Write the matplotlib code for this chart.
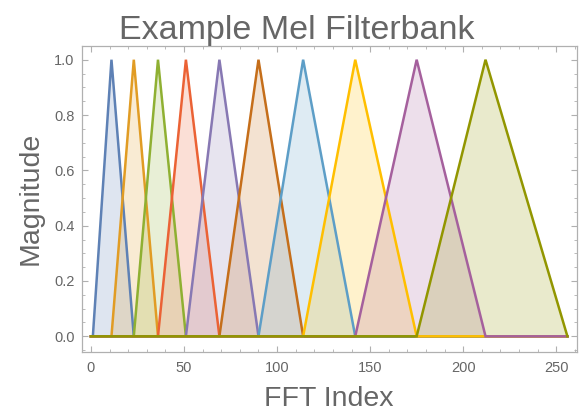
import numpy as np
import matplotlib
matplotlib.use("Agg")
import matplotlib.pyplot as plt
from matplotlib.ticker import MultipleLocator

# filter edge points (FFT bin index)
edges = [1, 11, 23, 36, 51, 69, 90, 114, 142, 175, 212, 256]
n_fft_max = 256
colors = ["#5E81B5", "#E19C24", "#8FB032", "#EB6235", "#8778B3",
          "#C56E1A", "#5D9EC7", "#FFBF00", "#A5609D", "#929600"]

title = "Example Mel Filterbank"
xlabel = "FFT Index"
ylabel = "Magnitude"
xticks = [0, 50, 100, 150, 200, 250]
yticks = [0.0, 0.2, 0.4, 0.6, 0.8, 1.0]

text_col = "#666666"
frame_col = "#b0b0b0"

plt.rcParams['font.family'] = ['Liberation Sans', 'DejaVu Sans']

fig = plt.figure(figsize=(5.81, 4.17), dpi=100)
ax = fig.add_axes([0.1406, 0.157, 0.852, 0.733])

##############################################################################
# one triangle per filter, flat zero across the rest of the range
filters = []
for k in range(len(edges) - 2):
    lo, mid, hi = edges[k], edges[k + 1], edges[k + 2]
    xs = [0, lo, mid, hi, n_fft_max]
    ys = [0, 0, 1, 0, 0]
    filters.append((xs, ys))

for k, (xs, ys) in enumerate(filters):
    ax.fill_between(xs, 0, ys, color=colors[k], alpha=0.2, linewidth=0, zorder=1)

for k, (xs, ys) in enumerate(filters):
    ax.plot(xs, ys, color=colors[k], linewidth=1.8, zorder=2 + k,
            solid_joinstyle='miter')

ax.set_xlim(-5, 261)
ax.set_ylim(-0.055, 1.05)

ax.set_xticks(xticks)
ax.set_yticks(yticks)
ax.set_yticklabels(["%.1f" % v for v in yticks])
ax.xaxis.set_minor_locator(MultipleLocator(10))
ax.yaxis.set_minor_locator(MultipleLocator(0.05))

ax.tick_params(which='both', direction='in', top=True, right=True,
               color=frame_col, labelcolor=text_col, labelsize=10.5)
ax.tick_params(which='major', length=4, width=0.8)
ax.tick_params(which='minor', length=2, width=0.6)
ax.tick_params(axis='x', pad=7)
ax.tick_params(axis='y', pad=5)
for s in ax.spines.values():
    s.set_color(frame_col)
    s.set_linewidth(0.9)

ax.set_title(title, fontsize=24.5, color=text_col, pad=4, x=0.434)
ax.set_xlabel(xlabel, fontsize=20.5, color=text_col, labelpad=8)
ax.set_ylabel(ylabel, fontsize=20.5, color=text_col, labelpad=8)

fig.savefig("out.png", dpi=100)
